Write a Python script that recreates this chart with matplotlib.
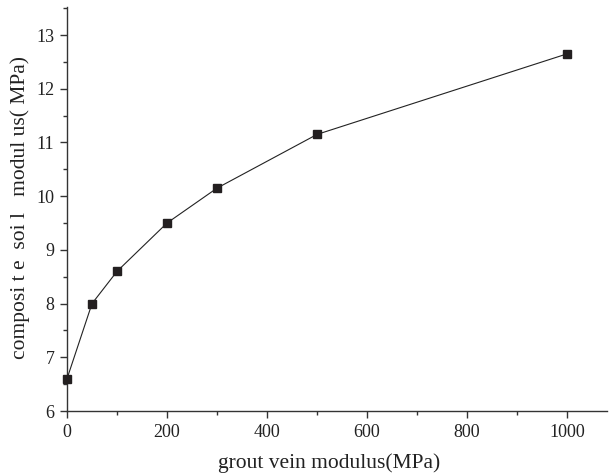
import matplotlib
matplotlib.use('Agg')
import matplotlib.pyplot as plt
from matplotlib.ticker import MultipleLocator

plt.rcParams['font.family'] = ['Liberation Serif', 'DejaVu Serif']

grout_modulus = [0, 50, 100, 200, 300, 500, 1000]
soil_modulus = [6.6, 8.0, 8.6, 9.5, 10.15, 11.15, 12.65]

fig = plt.figure(figsize=(6.09, 4.73), dpi=100)
ax = fig.add_axes([0.110, 0.131, 0.887, 0.854])

ax.plot(grout_modulus, soil_modulus, color='#222222', linewidth=0.8,
        marker='s', markersize=6.3, markerfacecolor='#231f20',
        markeredgecolor='#231f20', clip_on=False, zorder=3)

ax.set_xlim(0, 1080)
ax.set_ylim(6, 13.52)
ax.xaxis.set_major_locator(MultipleLocator(200))
ax.xaxis.set_minor_locator(MultipleLocator(100))
ax.yaxis.set_major_locator(MultipleLocator(1))
ax.yaxis.set_minor_locator(MultipleLocator(0.5))

for side in ['top', 'right']:
    ax.spines[side].set_visible(False)
for side in ['left', 'bottom']:
    ax.spines[side].set_color('#333333')
    ax.spines[side].set_linewidth(1.0)

ax.tick_params(which='major', direction='out', length=5, width=1.0,
               color='#333333', labelsize=13, labelcolor='#222222', pad=4)
ax.tick_params(which='minor', direction='out', length=3, width=1.0,
               color='#333333')

ax.set_xlabel('grout vein modulus(MPa)', fontsize=15.5, color='#222222')
ax.set_ylabel('composi t e  soi l   modul us( MPa)', fontsize=15.5, color='#222222')
ax.xaxis.set_label_coords(0.485, -0.105)
ax.yaxis.set_label_coords(-0.068, 0.504)

fig.savefig('out.png', dpi=100)
